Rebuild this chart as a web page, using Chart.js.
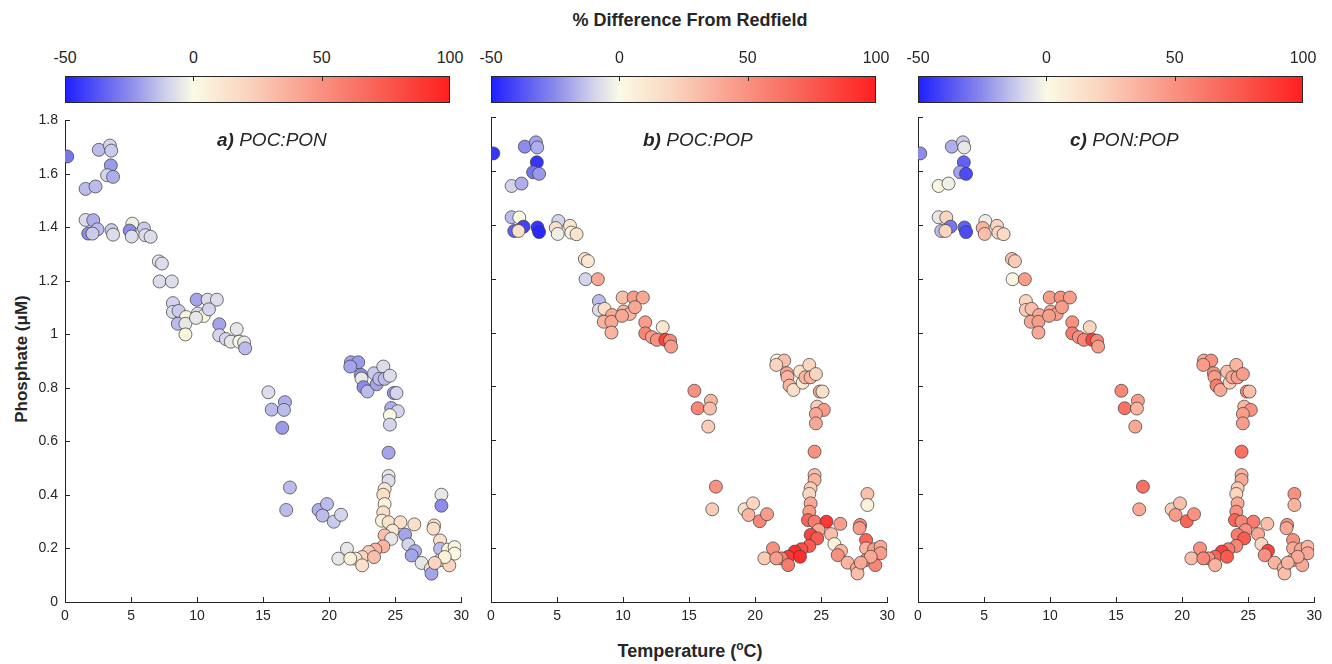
<!DOCTYPE html>
<html>
<head>
<meta charset="utf-8">
<script src="https://cdn.jsdelivr.net/npm/chart.js@4.4.1/dist/chart.umd.min.js"></script>
<style>
  body { margin:0; background:#fff; width:1332px; height:664px; position:relative; overflow:hidden;
         font-family:"Liberation Sans", Arial, sans-serif; color:#262626; }
  canvas { position:absolute; }
  .txt { position:absolute; white-space:nowrap; }
  .cb { position:absolute; box-sizing:border-box; border:1px solid #262626; }
  .cbtick { position:absolute; width:1px; height:4px; background:#262626; }
</style>
</head>
<body>
<div class="txt" id="mainTitle" style="left:0;width:1380px;top:10px;text-align:center;font-size:18px;font-weight:bold;">% Difference From Redfield</div>
<div class="txt" style="left:-58px;top:349px;width:160px;text-align:center;transform:rotate(-90deg);font-size:17px;font-weight:bold;">Phosphate (μM)</div>
<div class="txt" style="left:540px;top:639px;width:300px;text-align:center;font-size:18px;font-weight:bold;">Temperature (<sup style="font-size:12px">o</sup>C)</div>
<script>
// temperature (°C) and phosphate (µM) for each sample
const temp = [0.17,2.56,3.4,3.5,3.47,3.19,3.64,1.56,2.31,1.56,2.14,2.46,1.76,2.08,3.52,3.64,5.1,4.9,5.05,5.98,6.08,6.48,
  7.11,7.34,7.16,8.09,8.17,8.17,8.6,9.17,8.54,9.12,9.12,9.97,10.8,11.5,10.05,10.5,9.92,10.9,11.68,11.68,12.18,12.56,13.0,13.2,13.56,13.64,
  15.4,15.65,16.65,16.58,16.45,17.03,16.75,19.2,19.84,19.5,20.35,20.9,
  21.65,22.2,21.6,22.4,22.45,22.6,22.9,23.4,23.6,23.8,24.1,24.2,24.6,24.9,25.1,24.7,25.2,24.6,24.6,24.5,
  24.5,24.5,24.2,24.1,24.2,24.1,24.0,24.5,25.4,26.45,24.8,24.2,24.7,24.1,23.5,23.0,22.5,22.0,21.35,20.7,21.6,22.5,23.4,
  25.75,26.0,26.5,26.25,27.0,27.7,27.75,27.95,27.9,28.5,28.5,28.4,28.4,28.4,29.0,29.5,29.5,29.1,28.75,28.0];
const phos = [1.665,1.69,1.706,1.687,1.632,1.595,1.589,1.544,1.553,1.428,1.427,1.393,1.377,1.377,1.39,1.373,1.414,1.388,1.366,1.396,1.371,1.365,
  1.273,1.265,1.198,1.198,1.117,1.084,1.088,1.065,1.04,1.04,1.0,1.13,1.13,1.13,1.078,1.069,1.062,1.094,1.038,0.997,0.983,0.973,1.02,0.973,0.97,0.948,
  0.784,0.719,0.747,0.718,0.651,0.428,0.344,0.344,0.366,0.323,0.30,0.326,
  0.896,0.896,0.88,0.849,0.835,0.803,0.787,0.855,0.814,0.834,0.88,0.834,0.846,0.781,0.781,0.725,0.713,0.698,0.663,0.558,
  0.471,0.453,0.422,0.401,0.366,0.335,0.304,0.298,0.298,0.29,0.267,0.249,0.236,0.208,0.196,0.187,0.168,0.162,0.199,0.162,0.162,0.137,0.168,
  0.252,0.215,0.19,0.174,0.146,0.125,0.106,0.286,0.274,0.401,0.36,0.23,0.199,0.156,0.196,0.205,0.181,0.137,0.168,0.146];
// % difference from Redfield per panel
const diffPocPon = [-30,-15,-10,-12,-22,-10,-18,-15,-15,-8,-18,-15,-25,-12,-12,-8,-3,-25,-8,-12,-8,-8,
  -5,-8,-8,-8,-10,-8,-12,2,-15,-5,3,-20,-8,-8,-8,3,-5,-10,-20,-10,-10,-5,-5,0,-5,-15,
  -8,-15,-18,-15,-22,-15,-15,-18,-15,-15,-12,-10,
  -20,-22,-20,-25,-5,-25,-15,-12,-20,-15,-8,-15,-8,-22,-10,-18,-10,0,-10,-20,
  -5,-8,10,15,5,15,5,12,15,15,10,30,-5,35,35,25,20,10,-5,-5,5,15,30,
  -20,-10,-18,-20,-5,15,-20,15,15,-5,-25,15,-15,20,5,3,0,20,5,20];
const diffPocPop = [-45,-25,-20,-18,-45,-30,-22,-10,-18,-15,0,-42,-35,15,-45,-48,-10,15,-3,10,5,12,
  15,10,-10,40,-15,-8,15,40,35,40,35,30,45,40,35,35,40,40,45,55,45,50,10,85,55,45,
  50,55,35,30,25,50,25,15,20,35,55,45,
  0,30,20,40,35,35,15,15,10,35,20,35,20,40,15,25,45,40,40,50,
  30,35,25,20,40,45,70,60,90,45,40,85,75,75,80,95,90,60,50,25,45,60,95,
  30,5,35,50,35,40,30,55,45,30,5,70,35,50,45,40,45,55,40,40];
const diffPonPop = [-25,-18,-12,-5,-35,-20,-40,2,-3,-5,20,-30,-15,20,-35,-40,-3,35,30,20,20,18,
  30,25,2,45,20,25,30,40,40,45,40,45,50,45,40,45,45,45,50,60,50,55,20,85,55,45,
  55,65,45,35,40,65,40,25,30,45,70,50,
  40,50,45,50,45,60,40,30,25,40,35,45,45,55,30,35,50,45,45,65,
  35,40,25,20,40,50,70,55,60,30,50,60,75,55,60,85,70,50,50,30,55,35,75,
  40,20,85,50,35,35,30,50,40,50,35,50,40,40,40,35,40,40,40,35];
const panelNames = ['POC:PON', 'POC:POP', 'PON:POP'];
const panelLetters = ['a)', 'b)', 'c)'];
const panelDiffs = [diffPocPon, diffPocPop, diffPonPop];
const xTicks = [0,5,10,15,20,25,30];
const yTicks = [0,0.2,0.4,0.6,0.8,1,1.2,1.4,1.6,1.8];
const cbTicks = [-50,0,50,100];

// diverging blue - ivory - red colormap
const cmap = [[-50,[32,32,255]],[-25,[140,140,235]],[-10,[212,212,236]],[0,[250,250,228]],
  [20,[250,214,192]],[50,[249,145,128]],[75,[250,90,80]],[100,[255,32,32]]];
function colorOf(v){
  v = Math.max(-50, Math.min(100, v));
  for(let i=0;i<cmap.length-1;i++){
    const [a,ca]=cmap[i], [b,cb]=cmap[i+1];
    if(v<=b){
      const t=(v-a)/(b-a);
      const c=ca.map((k,j)=>Math.round(k+(cb[j]-k)*t));
      return 'rgb('+c.join(',')+')';
    }
  }
  return 'rgb(255,32,32)';
}

const axLeft = [65, 491, 918];
const axW = 398, axTop = 117, axH = 485;
const cbW = 385;
const font = {family:'"Liberation Sans", Arial, sans-serif', size:14};

const inwardTicks = {
  id:'inwardTicks',
  afterDraw(chart){
    const {ctx, chartArea, scales:{x, y}} = chart;
    ctx.save();
    ctx.strokeStyle='#262626'; ctx.lineWidth=1;
    ctx.beginPath();
    x.ticks.forEach(t=>{
      const px=Math.round(x.getPixelForValue(t.value))+0.5;
      ctx.moveTo(px, chartArea.bottom); ctx.lineTo(px, chartArea.bottom-5);
    });
    y.ticks.forEach(t=>{
      const py=Math.round(y.getPixelForValue(t.value))+0.5;
      ctx.moveTo(chartArea.left, py); ctx.lineTo(chartArea.left+5, py);
    });
    ctx.stroke();
    ctx.restore();
  }
};

const gradStops = cmap.map(([v,c])=>'rgb('+c.join(',')+') '+((v+50)/150*100).toFixed(1)+'%').join(',');

panelNames.forEach((name, p)=>{
  const cv = document.createElement('canvas');
  const padL = 60, padR = 12, padT = 12, padB = 40;
  cv.width = padL+axW+padR; cv.height = padT+axH+padB;
  cv.style.left = (axLeft[p]-padL)+'px';
  cv.style.top = (axTop-padT)+'px';
  cv.style.width = cv.width+'px'; cv.style.height = cv.height+'px';
  document.body.appendChild(cv);

  const diffs = panelDiffs[p];
  const pts = temp.map((t,i)=>({x:t, y:phos[i]}));
  new Chart(cv, {
    type:'scatter',
    data:{datasets:[{
      data:pts,
      pointRadius:6.5,
      pointBackgroundColor:diffs.map(colorOf),
      pointBorderColor:'rgba(60,60,60,0.9)',
      pointBorderWidth:0.8
    }]},
    options:{
      responsive:false, animation:false,
      layout:{padding:{top:padT, right:padR, left:0, bottom:0}},
      plugins:{legend:{display:false}, tooltip:{enabled:false}},
      scales:{
        x:{type:'linear', min:0, max:30,
          afterBuildTicks: s=>{ s.ticks = xTicks.map(v=>({value:v})); },
          afterFit: s=>{ s.height = padB; },
          ticks:{font, color:'#262626', padding:6, maxRotation:0, callback:v=>String(v)},
          grid:{drawOnChartArea:false, drawTicks:false},
          border:{display:true, color:'#262626', width:1}},
        y:{type:'linear', min:0, max:1.8,
          afterBuildTicks: s=>{ s.ticks = yTicks.map(v=>({value:v})); },
          afterFit: s=>{ s.width = padL; },
          ticks:{font, color:'#262626', padding:7, display:p===0, callback:v=>String(+v.toFixed(1))},
          grid:{drawOnChartArea:false, drawTicks:false},
          border:{display:true, color:'#262626', width:1}}
      }
    },
    plugins:[inwardTicks]
  });

  // panel label
  const lab = document.createElement('div');
  lab.className='txt';
  lab.style.left=(axLeft[p]+152)+'px'; lab.style.top='129px'; lab.style.fontSize='19px';
  lab.innerHTML='<b><i>'+panelLetters[p]+'</i></b> <i>'+name+'</i>';
  document.body.appendChild(lab);

  // colorbar
  const cb = document.createElement('div');
  cb.className='cb';
  cb.style.left=axLeft[p]+'px'; cb.style.top='76px'; cb.style.width=cbW+'px'; cb.style.height='27px';
  cb.style.background='linear-gradient(to right,'+gradStops+')';
  document.body.appendChild(cb);
  cbTicks.forEach(v=>{
    const px = axLeft[p] + (v+50)/150*cbW;
    const t = document.createElement('div');
    t.className='txt';
    t.style.left=(px-30)+'px'; t.style.width='60px'; t.style.textAlign='center';
    t.style.top='49px'; t.style.fontSize='16px';
    t.textContent=String(v);
    document.body.appendChild(t);
    if(v>-50 && v<100){
      const tk=document.createElement('div');
      tk.className='cbtick'; tk.style.left=Math.round(px)+'px'; tk.style.top='77px';
      document.body.appendChild(tk);
    }
  });
});
</script>
</body>
</html>
